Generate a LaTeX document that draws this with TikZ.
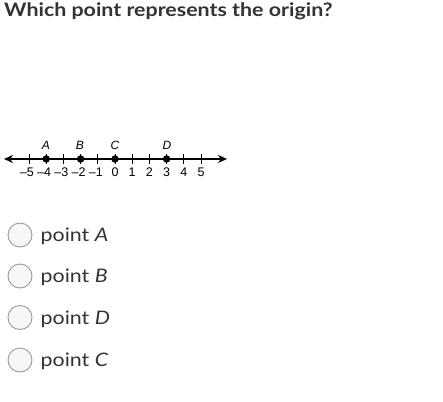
\documentclass[tikz,border=0pt]{standalone}
\usepackage{fontspec}
\setmainfont{Lato}[FakeStretch=1.15]
\setsansfont{Liberation Sans}
\usetikzlibrary{arrows.meta,positioning}
\definecolor{ink}{HTML}{333333}
\definecolor{ringgray}{HTML}{9A9A9A}
\definecolor{ringfill}{HTML}{F7F7FA}

\tikzset{
    tick/.style={thick,black},
    dot/.style={circle,fill=black,inner sep=0pt,minimum size=7.5pt},
    numlabel/.style={font=\sffamily\fontsize{12.5}{12.5}\selectfont,inner sep=0pt},
    ptlabel/.style={font=\sffamily\itshape\fontsize{12}{12}\selectfont,inner sep=0pt},
    radio/.style={circle,draw=ringgray,fill=ringfill,line width=0.9pt,inner sep=0pt,minimum size=24pt},
    choice/.style={font=\fontsize{18.6}{20}\selectfont,text=ink,inner sep=0pt,yshift=-6.7pt}
}

\begin{document}
\begin{tikzpicture}[x=1pt,y=-1pt]
    \useasboundingbox (0,0) rectangle (443,401);

    % Question
    \node[anchor=base west,inner sep=0pt,text=ink,font=\bfseries\fontsize{18.6}{20}\selectfont] (question) at (4,16.5) {Which point represents the origin?};

    % Draw number line
    \coordinate (lineleft) at (4,159);
    \coordinate (lineright) at (227,159);
    \draw[line width=1.6pt,{Stealth[length=9pt,width=8pt]}-{Stealth[length=9pt,width=8pt]}] (lineleft) -- (lineright);

    % Ticks and numbers
    \foreach \n in {-5,...,5} {
        \coordinate (t\n) at (115+17.2*\n,159);
        \draw[tick] (115+17.2*\n,154) -- (115+17.2*\n,164);
    }
    \foreach \n in {-5,...,-1} {
        \node[numlabel,xshift=-2pt] (num\n) at (115+17.2*\n,172) {–\the\numexpr-\n\relax};
    }
    \foreach \n in {0,...,5} {
        \node[numlabel] (num\n) at (115+17.2*\n,172) {\n};
    }

    % Points
    \node[dot] (dotA) at (t-4) {};
    \node[dot] (dotB) at (t-2) {};
    \node[dot] (dotC) at (t0) {};
    \node[dot] (dotD) at (t3) {};
    \node[ptlabel] (labA) at (46,145) {A};
    \node[ptlabel] (labB) at (80,145) {B};
    \node[ptlabel] (labC) at (115,145) {C};
    \node[ptlabel] (labD) at (167,145) {D};

    % Answer choices
    \node[radio] (optA) at (20,235) {};
    \node[radio] (optB) at (20,276) {};
    \node[radio] (optC) at (20,317.5) {};
    \node[radio] (optD) at (20,360) {};
    \node[choice,base right=8pt of optA] (txtA) {point \textit{A}};
    \node[choice,base right=8pt of optB] (txtB) {point \textit{B}};
    \node[choice,base right=8pt of optC] (txtC) {point \textit{D}};
    \node[choice,base right=8pt of optD] (txtD) {point \textit{C}};

\end{tikzpicture}
\end{document}
